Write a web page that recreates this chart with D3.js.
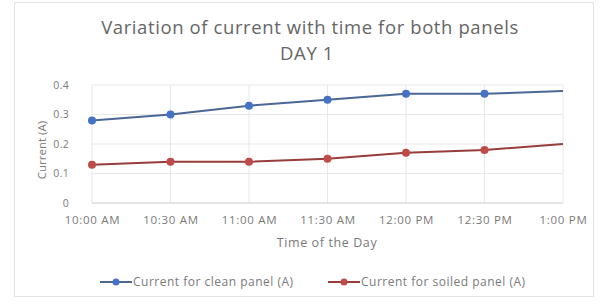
<!DOCTYPE html>
<html><head><meta charset="utf-8">
<script src="https://cdn.jsdelivr.net/npm/d3@7"></script>
<style>body{margin:0;background:#fff;}text{font-family:"Open Sans","Noto Sans",sans-serif;}</style>
</head><body><svg id="c" width="603" height="304"></svg>
<script>
const times = ["10:00 AM","10:30 AM","11:00 AM","11:30 AM","12:00 PM","12:30 PM","1:00 PM"];
const cleanPanel = [0.28,0.30,0.33,0.35,0.37,0.37,0.38];
const soiledPanel = [0.13,0.14,0.14,0.15,0.17,0.18,0.20];
const yTicks = [0,0.1,0.2,0.3,0.4];
const seriesNames = ["Current for clean panel (A)","Current for soiled panel (A)"];

const svg = d3.select("#c");
svg.append("rect").attr("x",14.5).attr("y",2.5).attr("width",579).attr("height",294)
  .attr("fill","#fff").attr("stroke","#e3e3e3");

const x = d3.scalePoint().domain(times).range([92,563]);
const y = d3.scaleLinear().domain([0,0.4]).range([203,85]);

// gridlines
svg.append("g").selectAll("line").data(yTicks).join("line")
  .attr("x1",92).attr("x2",563).attr("y1",d=>y(d)).attr("y2",d=>y(d))
  .attr("stroke","#e8e8e8");
svg.append("g").selectAll("line").data(times).join("line")
  .attr("x1",d=>x(d)).attr("x2",d=>x(d)).attr("y1",85).attr("y2",203)
  .attr("stroke","#e8e8e8");
svg.append("line").attr("x1",92).attr("x2",563).attr("y1",203).attr("y2",203).attr("stroke","#d6d6d6");

// axes labels
const yAx = svg.append("g").attr("transform","translate(92,0)")
  .call(d3.axisLeft(y).tickValues(yTicks).tickSize(0).tickPadding(23).tickFormat(d=>d===0?"0":d3.format(".1f")(d)));
yAx.select(".domain").remove();
yAx.selectAll("text").attr("fill","#7a7a7a").style("font-size","10.5px").style("letter-spacing","0.3px");

const xAx = svg.append("g").attr("transform","translate(0,203)")
  .call(d3.axisBottom(x).tickSize(0).tickPadding(13));
xAx.select(".domain").remove();
xAx.selectAll("text").attr("fill","#7a7a7a").style("font-size","11.5px").style("letter-spacing","0.7px");

// titles
svg.append("text").attr("x",310).attr("y",34).attr("text-anchor","middle")
  .attr("fill","#666").style("font-size","18.5px").style("letter-spacing","0.6px")
  .text("Variation of current with time for both panels");
svg.append("text").attr("x",307).attr("y",60).attr("text-anchor","middle")
  .attr("fill","#666").style("font-size","18.5px").style("letter-spacing","0.6px").text("DAY 1");
svg.append("text").attr("x",327).attr("y",247).attr("text-anchor","middle")
  .attr("fill","#7a7a7a").style("font-size","12.5px").style("letter-spacing","0.6px").text("Time of the Day");
svg.append("text").attr("transform","translate(46,150) rotate(-90)").attr("text-anchor","middle")
  .attr("fill","#7a7a7a").style("font-size","11.5px").text("Current (A)");

const series = [
  {name:seriesNames[0], vals:cleanPanel, line:"#4a6796", mark:"#4472c4"},
  {name:seriesNames[1], vals:soiledPanel, line:"#983c3c", mark:"#be4b48"}
];
const lineGen = d3.line().x((d,i)=>x(times[i])).y(d=>y(d));
series.forEach(s=>{
  svg.append("path").datum(s.vals).attr("d",lineGen).attr("fill","none")
    .attr("stroke",s.line).attr("stroke-width",2);
  svg.append("g").selectAll("circle").data(s.vals.slice(0,6)).join("circle")
    .attr("cx",(d,i)=>x(times[i])).attr("cy",d=>y(d)).attr("r",4).attr("fill",s.mark);
});

// legend
const legX = [100,328];
series.forEach((s,i)=>{
  const g = svg.append("g").attr("transform",`translate(${legX[i]},282)`);
  g.append("line").attr("x1",0).attr("x2",32).attr("stroke",s.line).attr("stroke-width",2);
  g.append("circle").attr("cx",16).attr("r",3.5).attr("fill",s.mark);
  g.append("text").attr("x",33).attr("y",4).attr("fill","#7a7a7a").style("font-size","12px")
    .style("letter-spacing","0.5px").text(s.name);
});
</script></body></html>
